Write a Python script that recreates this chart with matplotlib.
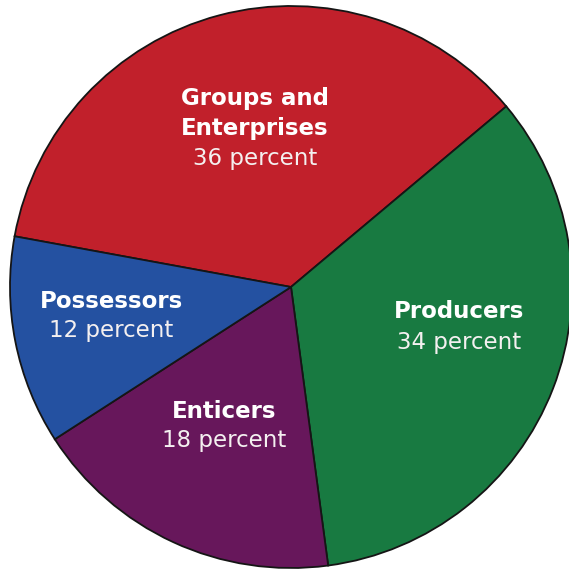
import matplotlib.pyplot as plt

# slice data, clockwise starting at the left boundary of the red slice
names = ["Groups and\nEnterprises", "Producers", "Enticers", "Possessors"]
shares = [36, 34, 18, 12]
colors = ["#c1202b", "#187a41", "#67175b", "#2451a1"]

# label positions in pixel coords (x centre, y of first line, from top)
label_px = [(255, 99), (459, 312), (224, 411), (111, 301)]
line_gap = 30

W, H = 569, 574
cx, cy, r = 291, 287, 281

fig = plt.figure(figsize=(W / 100, H / 100), dpi=100)
ax = fig.add_axes([0, 0, 1, 1])

ax.pie(shares, colors=colors, startangle=169.6, counterclock=False,
       radius=1, center=(0, 0),
       wedgeprops=dict(edgecolor="#151515", linewidth=1.3))

ax.set_xlim(-cx / r, (W - cx) / r)
ax.set_ylim(-(H - cy) / r, cy / r)
ax.set_aspect("auto")
ax.axis("off")

for name, pct, (px, py) in zip(names, shares, label_px):
    lines = name.split("\n")
    x = (px - cx) / r
    for i, line in enumerate(lines):
        y = (cy - py - i * line_gap) / r
        ax.text(x, y, line, color="white", fontsize=16.5, fontweight="bold",
                ha="center", va="center")
    y = (cy - py - len(lines) * line_gap) / r
    ax.text(x, y, str(pct) + " percent", color="#f4f0f0", fontsize=16.5,
            ha="center", va="center")

fig.savefig("out.png", dpi=100)
